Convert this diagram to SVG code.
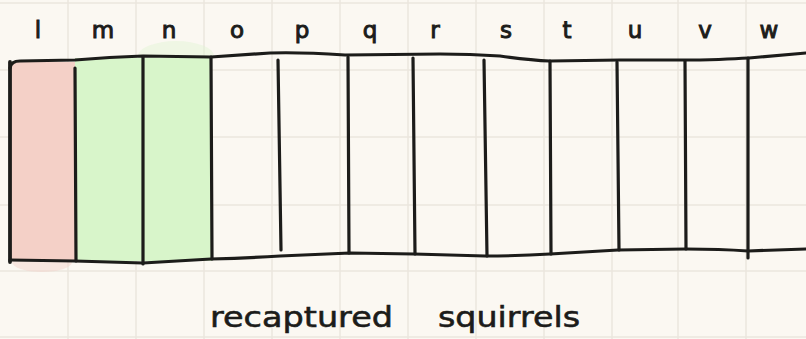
<svg xmlns="http://www.w3.org/2000/svg" width="806" height="339" viewBox="0 0 806 339">
<style>
.grid{stroke:#ebe6de;stroke-width:1.5;fill:none}
.ink{stroke:#1c1c1a;stroke-width:3.2;fill:none;stroke-linecap:round;stroke-linejoin:round}
.lbl{font-family:"DejaVu Sans","Liberation Sans",sans-serif;font-size:23px;fill:#1c1c1a;text-anchor:middle;stroke:#1c1c1a;stroke-width:1}
.cap{font-family:"DejaVu Sans","Liberation Sans",sans-serif;font-size:29px;fill:#1c1c1a;stroke:#1c1c1a;stroke-width:0.6}
</style>
<rect width="806" height="339" fill="#fbf8f2"/>
<g id="grid" class="grid">
<path d="M68,0V339M136,0V339M204,0V339M272,0V339M340,0V339M408,0V339M476,0V339M544,0V339M612,0V339M678,0V339M746,0V339"/>
<path d="M0,3H806M0,70H806M0,137H806M0,205H806M0,271H806M0,337H806"/>
</g>
<g id="fills">
<ellipse cx="42" cy="262" rx="30" ry="10" fill="#f4d3cb" opacity="0.5"/>
<rect x="10" y="62" width="66" height="199" fill="#f4d0c7"/>
<ellipse cx="176" cy="56" rx="38" ry="15" fill="#dff5d3" opacity="0.45"/>
<rect x="75" y="58" width="137" height="203" fill="#d8f5ca"/>
</g>
<g id="cells">
<g id="cell-l"><text class="lbl" x="38" y="38">l</text></g>
<g id="cell-m"><text class="lbl" x="103" y="38">m</text></g>
<g id="cell-n"><text class="lbl" x="169" y="38">n</text></g>
<g id="cell-o"><text class="lbl" x="237" y="38">o</text></g>
<g id="cell-p"><text class="lbl" x="302" y="38">p</text></g>
<g id="cell-q"><text class="lbl" x="370" y="38">q</text></g>
<g id="cell-r"><text class="lbl" x="435" y="38">r</text></g>
<g id="cell-s"><text class="lbl" x="506" y="38">s</text></g>
<g id="cell-t"><text class="lbl" x="567" y="38">t</text></g>
<g id="cell-u"><text class="lbl" x="635" y="38">u</text></g>
<g id="cell-v"><text class="lbl" x="705" y="38">v</text></g>
<g id="cell-w"><text class="lbl" x="769" y="38">w</text></g>
</g>
<g id="connectors" class="ink">
<path d="M10,68 Q11,61 20,61 L75,60 Q110,57 143,56 L211,57 Q240,55 270,53 Q300,52 345,55 L440,54 Q470,54 500,56 Q530,60 550,61 L620,60 L700,60 Q740,59 760,57 L806,53"/>
<path d="M10,62 L10,262" stroke-width="3.8"/>
<path d="M10,260 L75,261 L143,263 L211,259 Q250,258 280,256 L350,253 L414,254 L485,256 Q520,256 550,254 L618,250 L686,249 Q720,249 748,251 L806,249"/>
<path d="M75,68 L76,261"/>
<path d="M143,57 L143,264"/>
<path d="M211,57 L212,259"/>
<path d="M278,60 L281,250"/>
<path d="M348,57 L349,253"/>
<path d="M413,58 L415,254"/>
<path d="M484,60 L487,256"/>
<path d="M550,61 L551,254"/>
<path d="M617,62 L619,250"/>
<path d="M685,61 L686,249"/>
<path d="M748,58 L748,258"/>
</g>
<g id="caption">
<text class="cap" x="210" y="327" textLength="183" lengthAdjust="spacingAndGlyphs">recaptured</text>
<text class="cap" x="438" y="327" textLength="142" lengthAdjust="spacingAndGlyphs">squirrels</text>
</g>
</svg>
